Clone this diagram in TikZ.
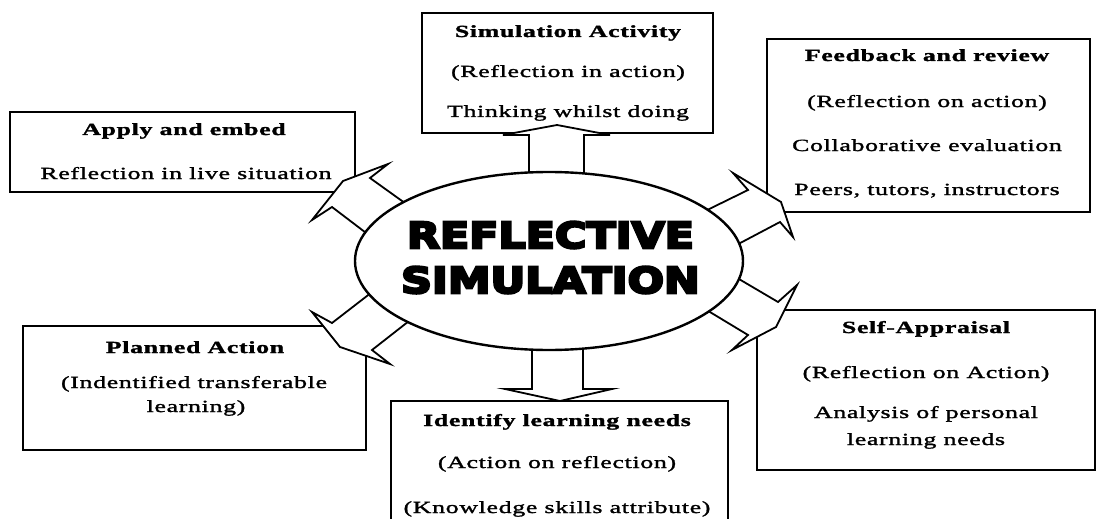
\documentclass[tikz,border=0pt]{standalone}
\usepackage{fontspec}
\usetikzlibrary{shapes.geometric}
\setmainfont{Liberation Serif}[FakeStretch=1.52, LetterSpace=4, FakeBold=1.6]
\newfontfamily\heavyfont{DejaVu Sans}[UprightFont={* Bold}, FakeStretch=1.2, FakeBold=7]
\begin{document}
\begin{tikzpicture}[x=1pt, y=-1pt,
  box/.style={draw, line width=1.8pt, fill=white, inner sep=0pt},
  txt/.style={anchor=base, inner sep=0pt, font=\fontsize{17}{20}\selectfont},
  head/.style={txt, font=\fontsize{17}{20}\selectfont\bfseries},
  blockarrow/.style={draw, line width=1.8pt, fill=white, line join=miter},
  hub/.style={draw, line width=2.4pt, fill=white, ellipse, inner sep=0pt},
  hubtxt/.style={anchor=base, inner sep=0pt, font=\heavyfont\fontsize{35.7}{40}\selectfont}]
\clip (0,0) rectangle (1096,519);
\fill[white] (0,0) rectangle (1096,519);

% outer boxes
\node[box, minimum width=291, minimum height=120] (sim)   at (567.5,73)  {};
\node[box, minimum width=345, minimum height=80]  (apply) at (182.5,152)  {};
\node[box, minimum width=323, minimum height=173] (feed)  at (928.5,125.5) {};
\node[box, minimum width=343, minimum height=124] (plan)  at (194.5,388)  {};
\node[box, minimum width=337, minimum height=140] (ident) at (559.5,471)  {};
\node[box, minimum width=338, minimum height=160] (self)  at (926,390)    {};

% box texts
\node[head] (sim1) at (568,37)  {Simulation Activity};
\node[txt]  (sim2) at (568,77)  {(Reflection in action)};
\node[txt]  (sim3) at (568,117) {Thinking whilst doing};

\node[head] (apply1) at (184,135) {Apply and embed};
\node[txt]  (apply2) at (186,179) {Reflection in live situation};

\node[head] (feed1) at (927,61)  {Feedback and review};
\node[txt]  (feed2) at (927,107) {(Reflection on action)};
\node[txt]  (feed3) at (927,151) {Collaborative evaluation};
\node[txt]  (feed4) at (927,195) {Peers, tutors, instructors};

\node[head] (plan1) at (195,353) {Planned Action};
\node[txt]  (plan2) at (194,388) {(Indentified transferable};
\node[txt]  (plan3) at (196,412) {learning)};

\node[head] (ident1) at (557,426) {Identify learning needs};
\node[txt]  (ident2) at (557,468) {(Action on reflection)};
\node[txt]  (ident3) at (557,513) {(Knowledge skills attribute)};

\node[head] (self1) at (926,333) {Self-Appraisal};
\node[txt]  (self2) at (926,378) {(Reflection on Action)};
\node[txt]  (self3) at (926,418) {Analysis of personal};
\node[txt]  (self4) at (926,445) {learning needs};

% block arrows from the hub out to the boxes
\draw[blockarrow] (529,190) -- (529,135) -- (503,135) -- (557,125) -- (610,135) -- (584,135) -- (584,190) -- cycle;
\draw[blockarrow] (532,335) -- (532,389) -- (505,389) -- (560,401) -- (612,389) -- (583,389) -- (583,335) -- cycle;
\draw[blockarrow] (416,211) -- (370,178) -- (388,164) -- (343,181) -- (312,220) -- (332,207) -- (378,242) -- cycle;
\draw[blockarrow] (695,216) -- (748,190) -- (733,173) -- (781,202) -- (793,237) -- (780,222) -- (727,250) -- cycle;
\draw[blockarrow] (727,272) -- (778,302) -- (797,285) -- (776,327) -- (732,350) -- (748,335) -- (695,303) -- cycle;
\draw[blockarrow] (376,289) -- (332,323) -- (312,312) -- (340,347) -- (390,364) -- (372,350) -- (418,314) -- cycle;

% central hub
\node[hub, minimum width=388, minimum height=178] (hub) at (549,261) {};
\node[hubtxt] (hub1) at (550.5,248) {REFLECTIVE};
\node[hubtxt] (hub2) at (550.5,293) {SIMULATION};
\end{tikzpicture}
\end{document}
